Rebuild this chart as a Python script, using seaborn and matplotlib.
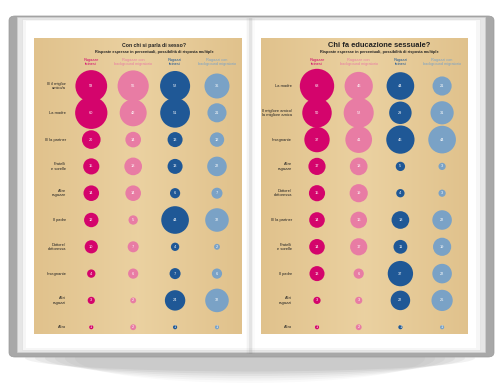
import numpy as np
import pandas as pd
import matplotlib
matplotlib.use("Agg")
import matplotlib.pyplot as plt
from matplotlib.patches import FancyBboxPatch, Rectangle, Ellipse
import seaborn as sns

sns.set_theme(style="white")
plt.rcParams['font.family'] = ['Liberation Sans', 'DejaVu Sans']

groups = ["Ragazze\nticinesi", "Ragazze con\nbackground migratorio",
          "Ragazzi\nticinesi", "Ragazzi con\nbackground migratorio"]
colors = ["#d4046c", "#e87ca4", "#1f5896", "#7aa2c6"]

left_title = "Con chi si parla di sesso?"
left_rows = ["Il/ il miglior\namico/a", "La madre", "Il/ la partner", "Fratelli\ne sorelle",
             "Altre\nragazze", "Il padre", "Dottore/\ndottoressa", "Insegnante",
             "Altri\nragazzi", "Altro"]
left_girls_ti = [58, 60, 20, 15, 14, 12, 10, 4, 3, 1]
left_girls_mig = [56, 42, 14, 18, 14, 5, 7, 6, 2, 2]
left_boys_ti = [52, 51, 13, 13, 6, 44, 4, 7, 24, 1]
left_boys_mig = [36, 21, 12, 22, 7, 32, 2, 6, 32, 1]

right_title = "Chi fa educazione sessuale?"
right_rows = ["La madre", "Il migliore amico/\nla migliore amica", "Insegnante",
              "Altre\nragazze", "Dottore/\ndottoressa", "Il/ la partner",
              "Fratelli\ne sorelle", "Il padre", "Altri\nragazzi", "Altro"]
right_girls_ti = [68, 50, 37, 17, 15, 14, 14, 13, 3, 1]
right_girls_mig = [46, 52, 41, 18, 19, 16, 17, 6, 3, 2]
right_boys_ti = [44, 29, 46, 5, 4, 18, 11, 37, 22, 1]
right_boys_mig = [21, 31, 44, 3, 3, 22, 19, 22, 26, 1]

subtitle = "Risposte espresse in percentuali, possibilità di risposta multiple"

W, H = 500, 384
fig = plt.figure(figsize=(5, 3.84), dpi=100)
fig.patch.set_facecolor("white")


def fx(px):
    return px / W


def fy(py):
    return 1 - py / H


# shadow under the book
for i, a in enumerate(np.linspace(0.05, 0.02, 6)):
    fig.patches.append(Ellipse((0.5, fy(358)), 0.9 - i * 0.04, 0.07 + i * 0.012,
                               transform=fig.transFigure, color="black", alpha=a, lw=0))
# cover
fig.patches.append(FancyBboxPatch((fx(9), fy(357)), fx(485), (357 - 16) / H,
                                  boxstyle="round,pad=0,rounding_size=0.012",
                                  transform=fig.transFigure, fc="#a8a8a8", ec="#9a9a9a", lw=0.5))
# page stack
fig.patches.append(Rectangle((fx(17), fy(352)), fx(468), (352 - 17) / H,
                             transform=fig.transFigure, fc="#e6e6e6", ec="#d0d0d0", lw=0.4))
fig.patches.append(Rectangle((fx(22), fy(350)), fx(458), (350 - 19) / H,
                             transform=fig.transFigure, fc="#f6f6f6", ec="#dcdcdc", lw=0.4))
fig.patches.append(Rectangle((fx(26), fy(348)), fx(450), (348 - 21) / H,
                             transform=fig.transFigure, fc="white", lw=0))
# spine shadow
for i, a in enumerate([0.12, 0.06, 0.03]):
    fig.patches.append(Rectangle((fx(250 - 1.5 * (i + 1)), fy(354)), fx(3 * (i + 1)), (354 - 18) / H,
                                 transform=fig.transFigure, fc="#808080", alpha=a, lw=0))

tan = np.array([[0.88, 0.76, 0.55], [0.92, 0.82, 0.63], [0.88, 0.76, 0.55]])
grad = np.interp(np.linspace(0, 2, 200), [0, 1, 2], [0, 1, 0])
tan_img = np.array([tan[0] + (tan[1] - tan[0]) * g for g in grad])[None, :, :]


def draw_panel(ax, rows, series, title, title_size, left_px, col_px):
    df = pd.DataFrame({
        "row": np.tile(np.arange(len(rows)), 4),
        "col": np.repeat(np.arange(4), len(rows)),
        "group": np.repeat(groups, len(rows)),
        "value": np.concatenate(series),
    })
    step = 41.7
    x0 = (left_px - col_px) / step
    x1 = (left_px + 207 - col_px) / step
    y0 = (38 - 86) / 26.8
    y1 = (334 - 86) / 26.8
    ax.imshow(tan_img, extent=(x0, x1, y1, y0), aspect="auto", zorder=0)
    sns.scatterplot(data=df, x="col", y="row", hue="group", palette=colors, hue_order=groups,
                    size="value", sizes=(0, 9.0 * 68), size_norm=(0, 68),
                    linewidth=0, legend=False, ax=ax, zorder=2)
    for _, r in df.iterrows():
        ax.text(r["col"], r["row"], str(r["value"]), color="white", fontsize=2.8,
                ha="center", va="center", zorder=3)
    for j, lab in enumerate(rows):
        ax.text(-0.6, j, lab, ha="right", va="center", fontsize=2.9, color="#222222",
                linespacing=1.1)
    for i, g in enumerate(groups):
        ax.text(i, -0.9, g, ha="center", va="center", fontsize=2.8, color=colors[i],
                linespacing=1.1)
    ax.text(1.5, -1.52, title, ha="center", va="center", fontsize=title_size,
            fontweight="bold", color="#222222")
    ax.text(1.5, -1.26, subtitle, ha="center", va="center", fontsize=2.8,
            fontweight="bold", color="#222222")
    ax.set_xlim(x0, x1)
    ax.set_ylim(y1, y0)
    ax.set_axis_off()
    ax.set_zorder(10)


ax_l = fig.add_axes([fx(34), fy(334), fx(208), (334 - 38) / H])
draw_panel(ax_l, left_rows, [left_girls_ti, left_girls_mig, left_boys_ti, left_boys_mig],
           left_title, 3.7, 34, 91)
ax_r = fig.add_axes([fx(261), fy(334), fx(207), (334 - 38) / H])
draw_panel(ax_r, right_rows, [right_girls_ti, right_girls_mig, right_boys_ti, right_boys_mig],
           right_title, 5.4, 261, 317)

fig.savefig("out.png", dpi=100)
